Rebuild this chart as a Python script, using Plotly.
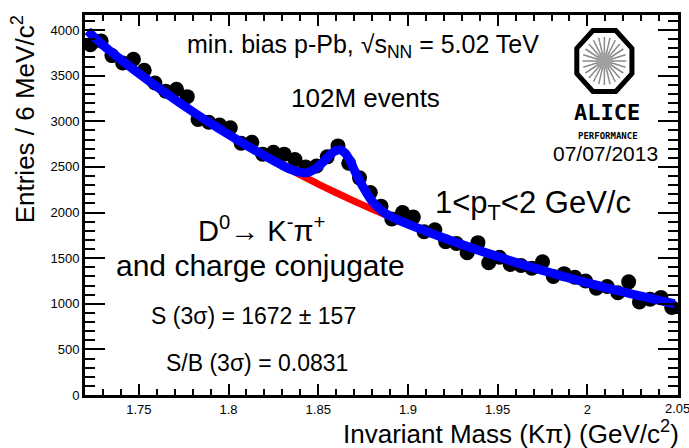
import math
import plotly.graph_objects as go

# ---------------- data ----------------
bin_low = 1.72
bin_width = 0.006
counts = [3840, 3880, 3720, 3640, 3680, 3560, 3420, 3330, 3350, 3270,
          3020, 2990, 2960, 2930, 2760, 2770, 2640, 2660, 2640, 2580,
          2500, 2510, 2610, 2730, 2540, 2380, 2220, 2070, 1930, 2000,
          1950, 1790, 1810, 1680, 1660, 1560, 1670, 1450, 1510, 1430,
          1420, 1390, 1460, 1300, 1330, 1290, 1250, 1170, 1190, 1120,
          1240, 1020, 1050, 1070, 960]
mass = [round(bin_low + bin_width * (i + 0.5), 4) for i in range(len(counts))]

# background fit (red)
bkg_x = [1.7215, 1.73, 1.74, 1.75, 1.76, 1.77, 1.78, 1.79, 1.80, 1.81, 1.82,
         1.83, 1.84, 1.85, 1.86, 1.87, 1.88, 1.89, 1.90, 1.91, 1.92, 1.93,
         1.94, 1.95, 1.96, 1.97, 1.98, 1.99, 2.00, 2.01, 2.02, 2.03, 2.04, 2.0485]
bkg_y = [3990, 3835, 3676, 3525, 3379, 3240, 3106, 2978, 2855, 2737, 2624,
         2516, 2412, 2312, 2217, 2125, 2037, 1953, 1873, 1795, 1721, 1650,
         1582, 1517, 1454, 1394, 1337, 1281, 1229, 1178, 1129, 1083, 1038, 1000]

# total fit (blue)
tot_x = [1.7215, 1.73, 1.74, 1.75, 1.76, 1.77, 1.78, 1.79, 1.80, 1.81, 1.82,
         1.83, 1.835, 1.84, 1.845, 1.85, 1.855, 1.8575, 1.86, 1.8625, 1.865,
         1.8675, 1.87, 1.875, 1.88, 1.885, 1.89, 1.895, 1.90, 1.91, 1.92, 1.93,
         1.94, 1.95, 1.96, 1.97, 1.98, 1.99, 2.00, 2.01, 2.02, 2.03, 2.04, 2.0485]
tot_y = [3990, 3835, 3676, 3525, 3379, 3240, 3106, 2978, 2855, 2737, 2624,
         2517, 2471, 2440, 2445, 2504, 2600, 2650, 2680, 2685, 2650,
         2575, 2470, 2280, 2125, 2025, 1960, 1914, 1873, 1795, 1721, 1650,
         1582, 1517, 1454, 1394, 1337, 1281, 1229, 1178, 1129, 1083, 1038, 1000]

x_ticks = [1.75, 1.8, 1.85, 1.9, 1.95, 2.0]
x_ticktext = ["1.75", "1.8", "1.85", "1.9", "1.95", "2"]
x_last_tick = "2.05"

X_RANGE = [1.72, 2.0505]
Y_RANGE = [0, 4165]

# ---------------- layout geometry ----------------
W, H = 689, 448
L, R, T, B = 85, 8, 15, 53
PW, PH = W - L - R, H - T - B
FONT = "Liberation Sans, Arial, Helvetica, sans-serif"


def px(xp):
    return (xp - L) / PW


def py(yp):
    return (H - B - yp) / PH


fig = go.Figure()

fig.add_trace(go.Scatter(x=mass, y=counts, mode="markers",
                         marker=dict(symbol="circle", size=15, color="black"),
                         hoverinfo="skip", showlegend=False))
fig.add_trace(go.Scatter(x=bkg_x, y=bkg_y, mode="lines",
                         line=dict(color="#ff0000", width=7, shape="spline"),
                         hoverinfo="skip", showlegend=False))
fig.add_trace(go.Scatter(x=tot_x, y=tot_y, mode="lines",
                         line=dict(color="#0000ff", width=9, shape="spline", smoothing=0.8),
                         hoverinfo="skip", showlegend=False))
# invisible trace so the mirrored tick axes (top / right) are drawn
fig.add_trace(go.Scatter(x=[X_RANGE[0]], y=[Y_RANGE[0]], xaxis="x2", yaxis="y2", mode="markers",
                         marker=dict(opacity=0), hoverinfo="skip", showlegend=False))

annotations = []


def ann(text, xp, yp, size, xanchor="center", yanchor="middle", angle=0, family=FONT, color="black"):
    annotations.append(dict(text=text, x=px(xp), y=py(yp), xref="paper", yref="paper",
                            xanchor=xanchor, yanchor=yanchor, showarrow=False, textangle=angle,
                            font=dict(size=size, family=family, color=color)))


ann("min. bias p-Pb, √s<sub>NN</sub> = 5.02 TeV", 364, 46, 25)
ann("102M events", 367, 98, 26)
ann("1&lt;p<sub>T</sub>&lt;2 GeV/c", 535, 205, 31)
ann("D<sup>0</sup>→ K<sup>-</sup>π<sup>+</sup>", 262, 229, 29)
ann("and charge conjugate", 261, 265, 30)
ann("S (3σ) = 1672 ± 157", 254, 316, 23)
ann("S/B (3σ) = 0.0831", 258, 363, 23)
ann("07/07/2013", 663, 153, 21, xanchor="right")
ann("<b>ALICE</b>", 610, 112, 22, family="DejaVu Sans Mono, monospace")
ann("<b>PERFORMANCE</b>", 611, 136, 9, family="DejaVu Sans Mono, monospace")
ann("Entries / 6 MeV/c<sup>2</sup>", 23, 13, 26, yanchor="top", angle=-90)
ann("Invariant Mass (Kπ) (GeV/c<sup>2</sup>)", 684, 432, 26, xanchor="right")
ann(x_last_tick, 680, 408, 13)

# ---------------- ALICE logo (decoration) ----------------
shapes = []
cx, cy, rx, ry = 607, 61, 30, 33
pts = []
for k in range(8):
    a = math.radians(22.5 + 45 * k)
    pts.append((px(cx + rx * math.cos(a)), py(cy + ry * math.sin(a))))
path = "M " + " L ".join(f"{x:.5f},{y:.5f}" for x, y in pts) + " Z"
shapes.append(dict(type="path", path=path, xref="paper", yref="paper",
                   line=dict(color="black", width=5), fillcolor="white", layer="above"))
for k in range(24):
    a = math.radians(15 * k)
    shapes.append(dict(type="line", xref="paper", yref="paper",
                       x0=px(cx + 7 * math.cos(a)), y0=py(cy + 7 * math.sin(a)),
                       x1=px(cx + 22 * math.cos(a)), y1=py(cy + 24 * math.sin(a)),
                       line=dict(color="#8a8a8a", width=1.5), layer="above"))
shapes.append(dict(type="circle", xref="paper", yref="paper",
                   x0=px(cx - 8), x1=px(cx + 8), y0=py(cy + 8), y1=py(cy - 8),
                   fillcolor="#a0a0a0", line=dict(width=0), layer="above"))

fig.update_layout(
    width=W, height=H,
    margin=dict(l=L, r=R, t=T, b=B),
    paper_bgcolor="white", plot_bgcolor="white",
    font=dict(family=FONT, color="black"),
    annotations=annotations, shapes=shapes,
    showlegend=False,
)

xminor = dict(ticks="inside", ticklen=6, tickwidth=2, tickcolor="black", dtick=0.01, tick0=1.72)
yminor = dict(ticks="inside", ticklen=10, tickwidth=2, tickcolor="black", dtick=100, tick0=0)

fig.update_layout(
    xaxis=dict(range=X_RANGE, showline=True, linewidth=3, linecolor="black", mirror=True,
               ticks="inside", ticklen=11, tickwidth=2, tickcolor="black",
               tickvals=x_ticks + [2.05], ticktext=x_ticktext + [""], tickfont=dict(size=13),
               minor=xminor, showgrid=False, zeroline=False),
    yaxis=dict(range=Y_RANGE, showline=True, linewidth=3, linecolor="black", mirror=True,
               ticks="inside", ticklen=20, tickwidth=2, tickcolor="black",
               dtick=500, tick0=0, tickfont=dict(size=13),
               minor=yminor, showgrid=False, zeroline=False),
    xaxis2=dict(range=X_RANGE, overlaying="x", side="top", anchor="y", showline=False,
                ticks="inside", ticklen=11, tickwidth=2, tickcolor="black",
                tickvals=x_ticks + [2.05], showticklabels=False,
                minor=xminor, showgrid=False, zeroline=False),
    yaxis2=dict(range=Y_RANGE, overlaying="y", side="right", anchor="x", showline=False,
                ticks="inside", ticklen=20, tickwidth=2, tickcolor="black",
                dtick=500, tick0=0, showticklabels=False,
                minor=yminor, showgrid=False, zeroline=False),
)

fig.write_html("out.html")
